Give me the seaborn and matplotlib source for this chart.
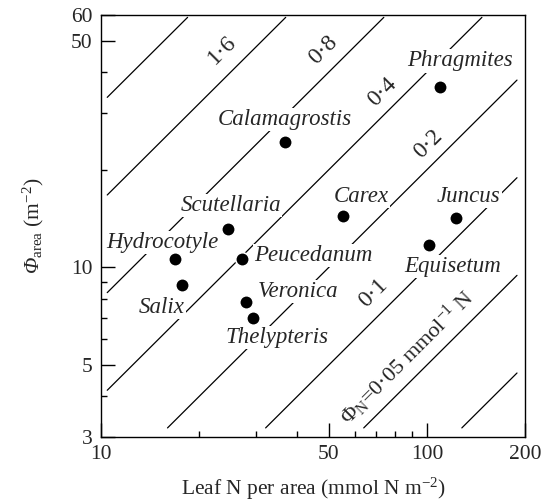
import numpy as np
import pandas as pd
import matplotlib
matplotlib.use('Agg')
import matplotlib.pyplot as plt
from matplotlib.ticker import FixedLocator, NullFormatter, FuncFormatter
import seaborn as sns

# species, leaf N per area (mmol N m-2), Phi_area (m-2)
species = ['Phragmites', 'Calamagrostis', 'Scutellaria', 'Hydrocotyle', 'Peucedanum',
           'Salix', 'Veronica', 'Thelypteris', 'Carex', 'Juncus', 'Equisetum']
leaf_n = [109.7, 36.7, 24.5, 16.9, 27.1, 17.7, 27.9, 29.3, 55.3, 122.8, 101.5]
phi_area = [36.0, 24.3, 13.1, 10.6, 10.6, 8.8, 7.8, 7.0, 14.4, 14.2, 11.7]

# isolines of Phi_N (mmol-1 N)
phi_n = [3.2, 1.6, 0.8, 0.4, 0.2, 0.1, 0.05, 0.025]
phi_n_labels = {1.6: '1·6', 0.8: '0·8', 0.4: '0·4', 0.2: '0·2', 0.1: '0·1',
                0.05: r'$\Phi_{\mathrm{N}}$=0·05 mmol$^{-1}$ N'}

x_ticks = [10, 50, 100, 200]
y_ticks = [3, 5, 10, 50, 60]

df = pd.DataFrame({'species': species, 'n': leaf_n, 'phi': phi_area})

sns.set_theme(style='ticks')
plt.rcParams['font.family'] = ['Liberation Serif', 'DejaVu Serif']
plt.rcParams['mathtext.fontset'] = 'custom'
plt.rcParams['mathtext.rm'] = 'Liberation Serif'
plt.rcParams['mathtext.it'] = 'Liberation Serif:italic'
plt.rcParams['mathtext.bf'] = 'Liberation Serif:bold'
# used only to get an italic capital Phi
plt.rcParams['mathtext.cal'] = 'Liberation Serif:italic'

fig = plt.figure(figsize=(5.48, 5.03), dpi=100)
ax = fig.add_axes([101 / 548, 66 / 503, 424 / 548, 422 / 503])
ax.set_xscale('log')
ax.set_yscale('log')
ax.set_xlim(10, 200)
ax.set_ylim(3, 60)

# diagonal lines, kept a little inside the frame
n_min, n_max, p_min, p_max = 10.45, 189, 3.2, 59
for k in phi_n:
    lo = max(n_min, p_min / k)
    hi = min(n_max, p_max / k)
    nn = np.array([lo, hi])
    ax.plot(nn, k * nn, color='black', lw=0.9, zorder=1)

# line labels: (N at foot point, offset in pixels)
line_lab_pos = {1.6: (26.2, 15.5), 0.8: (53.0, 14), 0.4: (79.7, 12),
                0.2: (110.1, 12.5), 0.1: (75.5, 14), 0.05: (95.9, 14)}
for k, txt in phi_n_labels.items():
    nf, d = line_lab_pos[k]
    ax.annotate(txt, xy=(nf, k * nf), xytext=(-d, d), textcoords='offset pixels',
                rotation=45, rotation_mode='anchor', ha='center', va='center',
                fontsize=17 if k != 0.05 else 16, zorder=2)

sns.scatterplot(data=df, x='n', y='phi', color='black', s=95, edgecolor='white',
                linewidth=1.2, zorder=4, ax=ax, legend=False)

label_off = {'Phragmites': (20, 26), 'Calamagrostis': (0, 23), 'Scutellaria': (3, 24),
             'Hydrocotyle': (-13, 17), 'Peucedanum': (71, 4), 'Salix': (-20, -22),
             'Veronica': (52, 11), 'Thelypteris': (24, -20), 'Carex': (18, 20),
             'Juncus': (13, 22), 'Equisetum': (24, -21)}
for s, n, p in zip(species, leaf_n, phi_area):
    ax.annotate(s, xy=(n, p), xytext=label_off[s], textcoords='offset pixels',
                ha='center', va='center', fontsize=16.5, style='italic', zorder=3,
                bbox=dict(boxstyle='square,pad=0.05', fc='white', ec='none'))

ax.xaxis.set_major_locator(FixedLocator(x_ticks))
ax.xaxis.set_minor_locator(FixedLocator([20, 30, 40, 60, 70, 80, 90]))
ax.yaxis.set_major_locator(FixedLocator(y_ticks))
ax.yaxis.set_minor_locator(FixedLocator([4, 6, 7, 8, 9, 20, 30, 40]))
fmt = FuncFormatter(lambda v, pos: '%g' % v)
ax.xaxis.set_major_formatter(fmt)
ax.yaxis.set_major_formatter(fmt)
ax.xaxis.set_minor_formatter(NullFormatter())
ax.yaxis.set_minor_formatter(NullFormatter())
ax.tick_params(which='both', direction='in', top=False, right=False, width=1,
               color='black', labelsize=15.5, pad=6)
ax.tick_params(which='major', length=10)
ax.tick_params(which='minor', length=4.5)
for sp in ax.spines.values():
    sp.set_linewidth(1.0)
    sp.set_color('black')

ax.set_xlabel('Leaf N per area (mmol N m$^{-2}$)', fontsize=15.5, labelpad=8)
ax.set_ylabel(r'$\mathcal{Φ}_{\mathrm{area}}$ (m$^{-2}$)', fontsize=15.5, labelpad=18)

fig.savefig('out.png', dpi=100)
